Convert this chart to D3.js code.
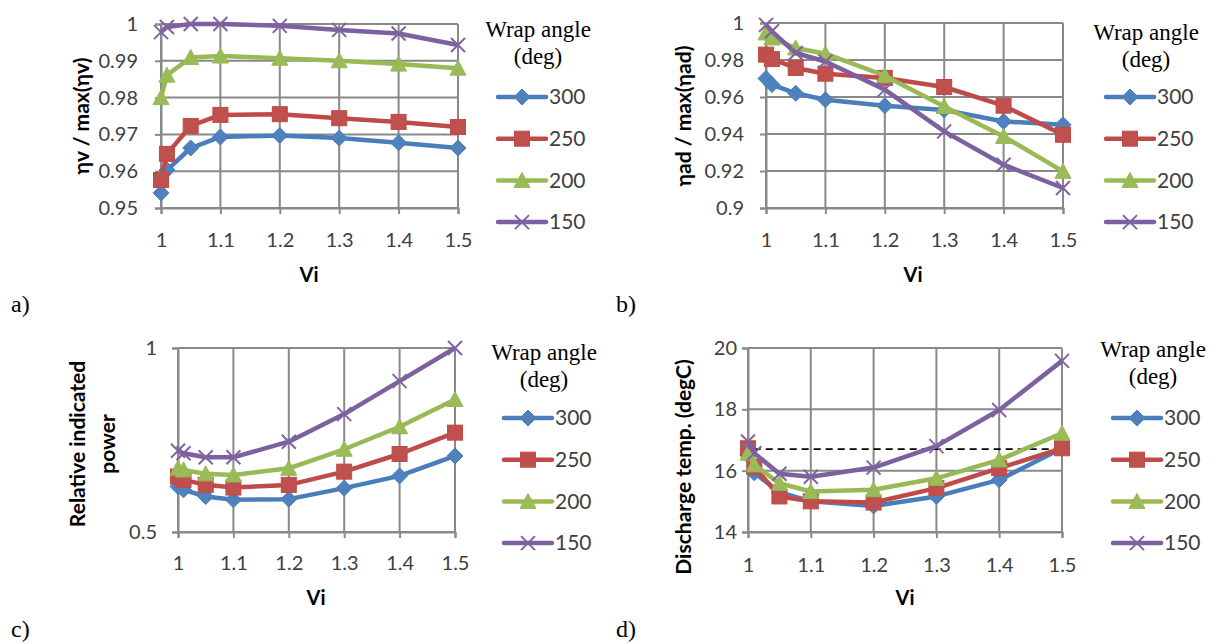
<!DOCTYPE html>
<html>
<head>
<meta charset="utf-8">
<script src="https://cdn.jsdelivr.net/npm/d3@7"></script>
<style>
  body { margin: 0; background: #fff; }
  svg text { font-family: Lato, "Liberation Sans", sans-serif; }
  .serif { font-family: "Liberation Serif", "Times New Roman", serif !important; }
</style>
</head>
<body>
<div id="container"></div>
<script>
// Shared x values and legend
var viValues = [1, 1.01, 1.05, 1.1, 1.2, 1.3, 1.4, 1.5];
var xTicks = [1, 1.1, 1.2, 1.3, 1.4, 1.5];
var wrapAngles = ["300", "250", "200", "150"];

// a) volumetric efficiency
var volEff300 = [0.9541, 0.9603, 0.9663, 0.9693, 0.9697, 0.9690, 0.9677, 0.9663];
var volEff250 = [0.9576, 0.9647, 0.9723, 0.9753, 0.9755, 0.9744, 0.9734, 0.9720];
var volEff200 = [0.9800, 0.9861, 0.9909, 0.9913, 0.9907, 0.9900, 0.9891, 0.9880];
var volEff150 = [0.9978, 0.9992, 1.0000, 1.0000, 0.9995, 0.9984, 0.9974, 0.9943];
var volTicks = [0.95, 0.96, 0.97, 0.98, 0.99, 1];

// b) adiabatic efficiency
var adEff300 = [0.970, 0.9667, 0.962, 0.9585, 0.9553, 0.953, 0.9468, 0.945];
var adEff250 = [0.9829, 0.9805, 0.9757, 0.9726, 0.9703, 0.9654, 0.9553, 0.9396];
var adEff200 = [0.9946, 0.9919, 0.9865, 0.9834, 0.9715, 0.9549, 0.9387, 0.9198];
var adEff150 = [0.999, 0.9955, 0.9838, 0.9792, 0.964, 0.9414, 0.9234, 0.9108];
var adTicks = [0.9, 0.92, 0.94, 0.96, 0.98, 1];

// c) relative indicated power
var power300 = [0.6235, 0.6146, 0.5964, 0.5875, 0.5893, 0.6192, 0.6525, 0.7067];
var power250 = [0.6506, 0.6417, 0.6281, 0.6208, 0.6280, 0.6640, 0.7120, 0.7700];
var power200 = [0.6733, 0.6687, 0.6580, 0.6550, 0.6730, 0.7248, 0.7860, 0.8600];
var power150 = [0.7210, 0.7140, 0.7030, 0.7030, 0.7454, 0.8204, 0.9100, 1.0000];
var powerTicks = [0.5, 1];

// d) discharge temperature
var temp300 = [16.5, 15.93, 15.3, 15.0, 14.85, 15.16, 15.7, 16.73];
var temp250 = [16.73, 16.13, 15.16, 15.0, 14.96, 15.43, 16.08, 16.73];
var temp200 = [16.57, 16.19, 15.59, 15.32, 15.38, 15.75, 16.35, 17.22];
var temp150 = [16.95, 16.57, 15.9, 15.8, 16.1, 16.8, 17.98, 19.58];
var tempTicks = [14, 16, 18, 20];
var refTempX = [0.99, 1.49];
var refTemp = 16.7;

var lineColors = ["#4A7EBB", "#BE4B48", "#98B954", "#7D60A0"];
var markColors = ["#4F81BD", "#C0504D", "#9BBB59", "#8064A2"];
var markers = ["diamond", "square", "triangle", "cross"];

var svg = d3.select("#container")
            .append("svg")
              .attr("width", 1211)
              .attr("height", 644);

function drawMarker(g, type, i, cx, cy) {
  if (type == "diamond") {
    g.append("path")
      .attr("d", "M0,-8L8,0L0,8L-8,0Z")
      .attr("transform", "translate(" + cx + "," + cy + ")")
      .attr("fill", markColors[i])
      .attr("stroke", lineColors[i]);
  } else if (type == "square") {
    g.append("rect")
      .attr("x", cx - 7.5).attr("y", cy - 7.5)
      .attr("width", 15).attr("height", 15)
      .attr("fill", markColors[i])
      .attr("stroke", lineColors[i]);
  } else if (type == "triangle") {
    g.append("path")
      .attr("d", "M0,-8L8,7L-8,7Z")
      .attr("transform", "translate(" + cx + "," + cy + ")")
      .attr("fill", markColors[i])
      .attr("stroke", lineColors[i]);
  } else {
    g.append("path")
      .attr("d", "M-7,-7L7,7M-7,7L7,-7")
      .attr("transform", "translate(" + cx + "," + cy + ")")
      .attr("fill", "none")
      .attr("stroke", markColors[i])
      .attr("stroke-width", 2);
  }
}

function drawPanel(p) {
  var g = svg.append("g");

  var x = d3.scaleLinear().domain([1, 1.5]).range([p.left, p.right]);
  var y = d3.scaleLinear().domain([p.yTicks[0], p.yTicks[p.yTicks.length - 1]]).range([p.bottom, p.top]);

  // gridlines
  g.selectAll(".hgrid")
    .data(p.yTicks)
    .enter()
    .append("line")
      .attr("x1", p.left).attr("x2", p.right)
      .attr("y1", function(d) { return y(d); })
      .attr("y2", function(d) { return y(d); })
      .attr("stroke", "#898989")
      .attr("stroke-width", 2);
  g.selectAll(".vgrid")
    .data(xTicks)
    .enter()
    .append("line")
      .attr("y1", p.top).attr("y2", p.bottom)
      .attr("x1", function(d) { return x(d); })
      .attr("x2", function(d) { return x(d); })
      .attr("stroke", "#898989")
      .attr("stroke-width", 2);

  // axes
  var xAxis = g.append("g")
      .attr("transform", "translate(0," + p.bottom + ")")
      .call(d3.axisBottom(x).tickValues(xTicks).tickFormat(d3.format("")).tickSizeOuter(0).tickSize(6).tickPadding(p.xPad));
  var yAxis = g.append("g")
      .attr("transform", "translate(" + p.left + ",0)")
      .call(d3.axisLeft(y).tickValues(p.yTicks).tickFormat(d3.format("")).tickSizeOuter(0).tickSize(6).tickPadding(p.yPad));
  [xAxis, yAxis].forEach(function(a) {
    a.select(".domain").attr("stroke", "#898989").attr("stroke-width", 2);
    a.selectAll(".tick line").attr("stroke", "#898989").attr("stroke-width", 2);
    a.selectAll(".tick text")
      .attr("fill", "#404040")
      .style("font-size", "20px")
      .style("font-family", "Lato, sans-serif");
  });

  // optional dashed reference line
  if (p.refY !== undefined) {
    g.append("line")
      .attr("x1", x(refTempX[0])).attr("x2", x(refTempX[1]))
      .attr("y1", y(p.refY)).attr("y2", y(p.refY))
      .attr("stroke", "#000")
      .attr("stroke-width", 1.8)
      .attr("stroke-dasharray", "7,5");
  }

  // series
  var line = d3.line()
              .x(function(d, i) { return x(viValues[i]); })
              .y(function(d) { return y(d); });
  p.series.forEach(function(s, i) {
    g.append("path")
      .attr("d", line(s))
      .attr("fill", "none")
      .attr("stroke", lineColors[i])
      .attr("stroke-width", 4.5)
      .attr("stroke-linejoin", "round");
    s.forEach(function(v, j) {
      drawMarker(g, markers[i], i, x(viValues[j]), y(v));
    });
  });

  // axis titles
  g.append("text")
    .attr("x", p.vix).attr("y", p.viy)
    .attr("text-anchor", "middle")
    .style("font-weight", "bold")
    .style("font-size", "20px")
    .text("Vi");

  var yl = g.append("text")
    .attr("transform", "translate(" + p.ylx + "," + p.yly + ") rotate(-90)")
    .attr("text-anchor", "middle")
    .style("font-weight", "bold")
    .style("font-size", "21px");
  p.yLabel.forEach(function(t, k) {
    yl.append("tspan")
      .attr("x", 0)
      .attr("dy", k == 0 ? (-(p.yLabel.length - 1) * 15 + 7) + "px" : "30px")
      .text(t);
  });

  // legend
  g.append("text").attr("class", "serif")
    .attr("x", p.legX + 16).attr("y", p.titleY)
    .attr("text-anchor", "middle")
    .style("font-size", "23px")
    .text("Wrap angle");
  g.append("text").attr("class", "serif")
    .attr("x", p.legX + 16).attr("y", p.titleY + 27)
    .attr("text-anchor", "middle")
    .style("font-size", "23px")
    .text("(deg)");
  wrapAngles.forEach(function(w, i) {
    var ly = p.entryY + i * 41.7;
    g.append("line")
      .attr("x1", p.legX - 24).attr("x2", p.legX + 24)
      .attr("y1", ly).attr("y2", ly)
      .attr("stroke", lineColors[i])
      .attr("stroke-width", 4.5)
      .attr("stroke-linecap", "round");
    drawMarker(g, markers[i], i, p.legX, ly);
    g.append("text")
      .attr("x", p.legX + 27).attr("y", ly)
      .attr("dy", "0.35em")
      .attr("fill", "#404040")
      .style("font-size", "21px")
      .text(w);
  });

  // panel letter
  g.append("text").attr("class", "serif")
    .attr("x", p.letX).attr("y", p.letY)
    .style("font-size", "24px")
    .text(p.letter);
}

drawPanel({
  left: 161, right: 458, top: 24, bottom: 208,
  yTicks: volTicks, xPad: 19, yPad: 17,
  series: [volEff300, volEff250, volEff200, volEff150],
  yLabel: ["\u03b7v / max(\u03b7v)"], ylx: 82, yly: 116,
  vix: 309, viy: 282,
  legX: 522, titleY: 37, entryY: 97, letter: "a)", letX: 11, letY: 312
});

drawPanel({
  left: 766, right: 1063, top: 23, bottom: 208,
  yTicks: adTicks, xPad: 19, yPad: 16,
  series: [adEff300, adEff250, adEff200, adEff150],
  yLabel: ["\u03b7ad / max(\u03b7ad)"], ylx: 684, yly: 116,
  vix: 913, viy: 282,
  legX: 1130, titleY: 40, entryY: 97, letter: "b)", letX: 616, letY: 312
});

drawPanel({
  left: 178, right: 455, top: 348, bottom: 532,
  yTicks: powerTicks, xPad: 18, yPad: 15,
  series: [power300, power250, power200, power150],
  yLabel: ["Relative indicated", "power"], ylx: 93, yly: 444,
  vix: 316, viy: 605,
  legX: 528, titleY: 360, entryY: 418, letter: "c)", letX: 11, letY: 637
});

drawPanel({
  left: 748, right: 1062, top: 348, bottom: 532,
  yTicks: tempTicks, xPad: 20, yPad: 5,
  series: [temp300, temp250, temp200, temp150],
  yLabel: ["Discharge temp. (degC)"], ylx: 684, yly: 467,
  vix: 905, viy: 605,
  legX: 1137, titleY: 357, entryY: 418, letter: "d)", letX: 616, letY: 637,
  refY: refTemp
});
</script>
</body>
</html>
